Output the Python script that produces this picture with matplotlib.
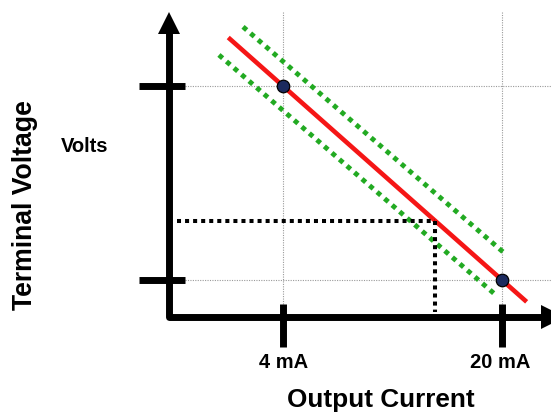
import matplotlib
matplotlib.use("Agg")
import matplotlib.pyplot as plt

plt.rcParams['font.family'] = ['Liberation Sans', 'DejaVu Sans']
plt.rcParams['font.weight'] = 'bold'

# ---- data (schematic units: current in mA, voltage in arbitrary units) ----
tick_currents = [4, 20]
tick_labels = ['4 mA', '20 mA']
voltage_levels = [5.0, 1.0]          # terminal voltage at 4 mA and 20 mA

nominal_I = [0.0, 21.8]              # red nominal line
nominal_V = [6.0, 0.55]
upper_I = [1.08, 20.07]              # green tolerance band (upper)
upper_V = [6.22, 1.58]
lower_I = [-0.68, 19.63]             # green tolerance band (lower)
lower_V = [5.64, 0.67]

op_I = 15.1                          # operating point read-out
op_V = 2.22

axis_origin = (-4.365, 0.227)
axis_top_V = 6.30
axis_right_I = 23.35
grid_left_I = -3.16
grid_bottom_V = 0.505
ytick_span_I = [-6.52, -3.16]
xtick_span_V = [0.505, -0.38]
readout_left_I = -3.74
readout_bottom_V = 0.34

# ---- figure ----
W, H = 551, 414
fig = plt.figure(figsize=(W / 100, H / 100), dpi=100)
ax = fig.add_axes([0, 0, 1, 1])
ax.set_xlim(4 - 283 / 13.6875, 4 + 268 / 13.6875)
ax.set_ylim(5 - 327 / 48.5, 5 + 87 / 48.5)
ax.axis('off')

grid_kw = dict(color='#9a9a9a', lw=0.8, ls=(0, (1, 1.2)), zorder=1)
xmax = ax.get_xlim()[1]
ymax = ax.get_ylim()[1]
for c in tick_currents:
    ax.plot([c, c], [grid_bottom_V, ymax - (ymax - axis_top_V) * 0.55], **grid_kw)
for v in voltage_levels:
    ax.plot([grid_left_I, xmax], [v, v], **grid_kw)

# tolerance band
green_kw = dict(color='#22aa22', lw=3.5, ls=(0, (1, 1.05)), solid_capstyle='butt',
                dash_capstyle='butt', zorder=2)
ax.plot(upper_I, upper_V, **green_kw)
ax.plot(lower_I, lower_V, **green_kw)

# nominal line
ax.plot(nominal_I, nominal_V, color='#f51616', lw=3.3, solid_capstyle='butt', zorder=3)

# operating point read-out
blk_kw = dict(color='black', lw=2.9, ls=(0, (1, 1)), dash_capstyle='butt', zorder=3)
ax.plot([readout_left_I, op_I], [op_V, op_V], **blk_kw)
ax.plot([op_I, op_I], [op_V, readout_bottom_V], **blk_kw)

# calibration points
ax.plot(tick_currents, voltage_levels, 'o', ms=9, mfc='#1c2a5e', mec='black',
        mew=0.9, zorder=5)

# axes
ax.plot([axis_origin[0], axis_origin[0], axis_right_I - 0.4],
        [axis_top_V, axis_origin[1], axis_origin[1]],
        color='black', lw=5, solid_joinstyle='round', solid_capstyle='butt', zorder=4)
ax.plot([axis_origin[0]], [axis_top_V], marker='^', ms=15.5, color='black', mew=0, zorder=4)
ax.plot([axis_right_I + 0.4], [axis_origin[1]], marker='>', ms=17, color='black', mew=0,
        zorder=4)

# ticks
for v in voltage_levels:
    ax.plot(ytick_span_I, [v, v], color='black', lw=5, solid_capstyle='butt', zorder=4)
for c in tick_currents:
    ax.plot([c, c], xtick_span_V, color='black', lw=5, solid_capstyle='butt', zorder=4)

# labels
def fx(px):
    return px / W

def fy(py):
    return 1 - py / H

fig.text(fx(284), fy(363), tick_labels[0], ha='center', va='center', fontsize=14.5,
         fontweight='bold')
fig.text(fx(500), fy(363), tick_labels[1], ha='center', va='center', fontsize=14.5,
         fontweight='bold')
fig.text(fx(85), fy(147), 'Volts', ha='center', va='center', fontsize=14.5,
         fontweight='bold')
fig.text(fx(381), fy(400), 'Output Current', ha='center', va='center', fontsize=18.8,
         fontweight='bold')
fig.text(fx(25.5), fy(205), 'Terminal Voltage', ha='center', va='center', fontsize=19.2,
         fontweight='bold', rotation=90)

fig.savefig('out.png', dpi=100)
